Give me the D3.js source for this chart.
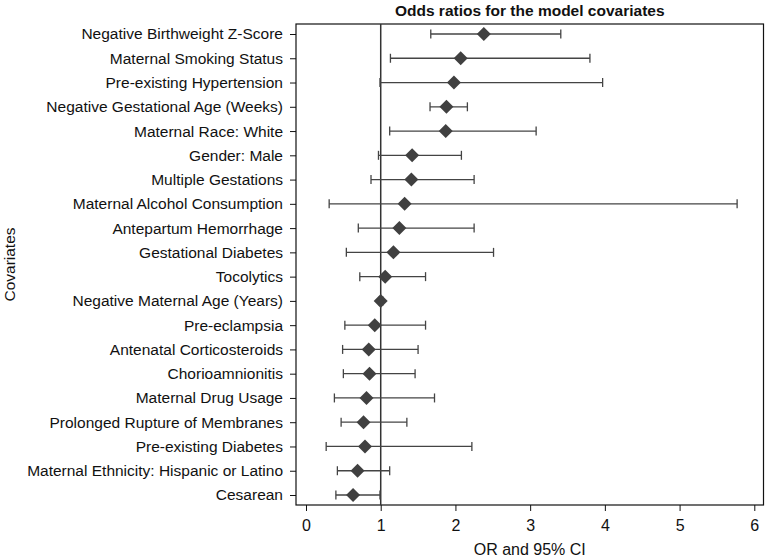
<!DOCTYPE html>
<html><head><meta charset="utf-8">
<script src="https://cdn.jsdelivr.net/npm/d3@7"></script>
<style>body{margin:0;background:#fff}svg{display:block;font-family:"Liberation Sans",Arial,sans-serif}</style>
</head><body><svg id="c" width="765" height="558"></svg>
<script>
const categories = ["Negative Birthweight Z-Score","Maternal Smoking Status","Pre-existing Hypertension","Negative Gestational Age (Weeks)","Maternal Race: White","Gender: Male","Multiple Gestations","Maternal Alcohol Consumption","Antepartum Hemorrhage","Gestational Diabetes","Tocolytics","Negative Maternal Age (Years)","Pre-eclampsia","Antenatal Corticosteroids","Chorioamnionitis","Maternal Drug Usage","Prolonged Rupture of Membranes","Pre-existing Diabetes","Maternal Ethnicity: Hispanic or Latino","Cesarean"];
const oddsRatio = [2.38,2.07,1.98,1.88,1.87,1.42,1.41,1.32,1.25,1.17,1.06,1.00,0.92,0.84,0.85,0.81,0.77,0.79,0.69,0.63];
const ciLower  = [1.67,1.13,0.99,1.66,1.12,0.97,0.87,0.31,0.70,0.54,0.72,0.98,0.52,0.49,0.50,0.38,0.47,0.27,0.42,0.40];
const ciUpper  = [3.41,3.80,3.97,2.16,3.08,2.08,2.25,5.77,2.25,2.51,1.60,1.03,1.60,1.50,1.46,1.72,1.35,2.22,1.12,0.99];
const xTicks = [0,1,2,3,4,5,6];
const title = "Odds ratios for the model covariates";
const xTitle = "OR and 95% CI";
const yTitle = "Covariates";

const FS = 15.5;
const data = categories.map((c,i)=>({c, or:oddsRatio[i], lo:ciLower[i], hi:ciUpper[i]}));
const svg = d3.select("#c");
const L=296, R=763.5, T=24, B=505;
const x = d3.scaleLinear().domain([0,6]).range([306,754.3]);
const y = d3.scalePoint().domain(categories).range([34,495]);

// frame
svg.append("rect").attr("x",L).attr("y",T).attr("width",R-L).attr("height",B-T)
  .attr("fill","none").attr("stroke","#111").attr("stroke-width",1.2);

// axes
const xa = svg.append("g").attr("transform",`translate(0,${B})`)
  .call(d3.axisBottom(x).tickValues(xTicks).tickSize(6).tickPadding(9).tickFormat(d3.format("d")));
xa.select(".domain").remove();
xa.selectAll("text").attr("font-size",16).attr("fill","#111").style("font-family","'Liberation Sans',Arial,sans-serif");
xa.selectAll("line").attr("stroke","#111");

const ya = svg.append("g").attr("transform",`translate(${L},0)`)
  .call(d3.axisLeft(y).tickSize(6).tickPadding(7));
ya.select(".domain").remove();
ya.selectAll("text").attr("font-size",FS).attr("fill","#111").style("font-family","'Liberation Sans',Arial,sans-serif");
ya.selectAll("line").attr("stroke","#111");

// reference line at 1
svg.append("line").attr("x1",x(1)).attr("x2",x(1)).attr("y1",T).attr("y2",B)
  .attr("stroke","#333").attr("stroke-width",1.5);

const g = svg.append("g");
const rows = g.selectAll("g.row").data(data).join("g").attr("class","row");
rows.append("line").attr("x1",d=>x(d.lo)).attr("x2",d=>x(d.hi)).attr("y1",d=>y(d.c)).attr("y2",d=>y(d.c))
  .attr("stroke","#444").attr("stroke-width",1.3);
rows.append("line").attr("x1",d=>x(d.lo)).attr("x2",d=>x(d.lo)).attr("y1",d=>y(d.c)-4.5).attr("y2",d=>y(d.c)+4.5)
  .attr("stroke","#444").attr("stroke-width",1.3);
rows.append("line").attr("x1",d=>x(d.hi)).attr("x2",d=>x(d.hi)).attr("y1",d=>y(d.c)-4.5).attr("y2",d=>y(d.c)+4.5)
  .attr("stroke","#444").attr("stroke-width",1.3);
rows.append("path").attr("transform",d=>`translate(${x(d.or)},${y(d.c)})`)
  .attr("d","M0,-7L7,0L0,7L-7,0Z").attr("fill","#404040");

svg.append("text").attr("x",(L+R)/2).attr("y",15.5).attr("text-anchor","middle")
  .attr("font-size",FS).attr("font-weight","bold").attr("fill","#111").text(title);
svg.append("text").attr("x",(L+R)/2).attr("y",555).attr("text-anchor","middle")
  .attr("font-size",16).attr("fill","#111").text(xTitle);
svg.append("text").attr("transform",`translate(15,${(T+B)/2}) rotate(-90)`).attr("text-anchor","middle")
  .attr("font-size",FS).attr("fill","#111").text(yTitle);
</script></body></html>
